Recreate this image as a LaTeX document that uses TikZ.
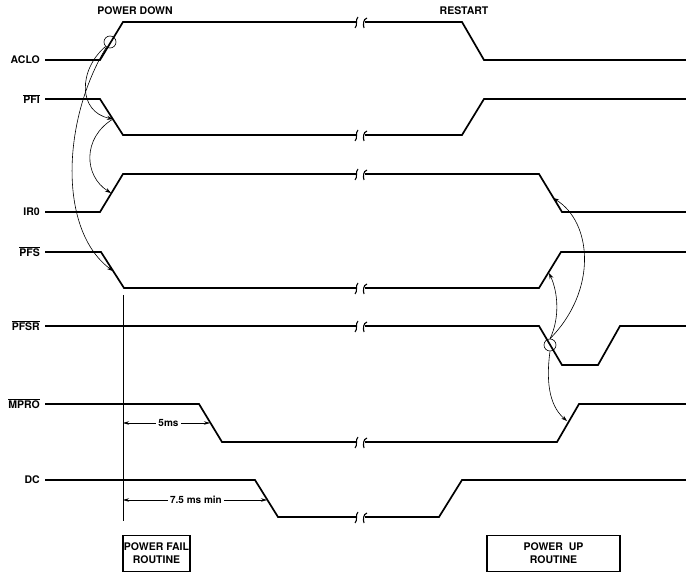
\documentclass[tikz,border=0pt]{standalone}
\usepackage{fontspec}
\setmainfont{TeX Gyre Heros}
\usetikzlibrary{arrows.meta}
\tikzset{
  sig/.style={line width=1.7pt, line join=miter},
  conn/.style={line width=0.6pt, -{Stealth[length=6pt,width=4pt]}},
  brkmark/.style={line width=1.1pt},
  lbl/.style={anchor=east, font=\fontsize{10.5}{12}\selectfont\bfseries, inner sep=1pt},
  ttl/.style={font=\fontsize{10.5}{12}\selectfont\bfseries, inner sep=1pt},
  dimtxt/.style={font=\fontsize{10}{11}\selectfont\bfseries, fill=white, inner sep=2pt},
  dimarr/.style={line width=0.6pt, {Stealth[length=6pt,width=3.5pt]}-{Stealth[length=6pt,width=3.5pt]}},
  routine/.style={draw, line width=1.4pt, align=center, font=\fontsize{10.5}{13}\selectfont\bfseries, inner sep=0pt},
  ring/.style={draw, circle, line width=0.6pt, minimum size=12pt, inner sep=0pt}
}
\begin{document}
\begin{tikzpicture}[x=1pt,y=-1pt]
\useasboundingbox (0,0) rectangle (686,572);
% titles
\node[ttl] (tdown) at (135,11) {POWER DOWN};
\node[ttl] (trest) at (464,11) {RESTART};
% labels
\node[lbl] (lACLO) at (41,60) {ACLO};
\node[lbl] (lPFI) at (41,99) {$\overline{\mbox{\bfseries PFI}}$};
\node[lbl] (lIRO) at (41,212) {IR0};
\node[lbl] (lPFS) at (41,252) {$\overline{\mbox{\bfseries PFS}}$};
\node[lbl] (lPFSR) at (41,326) {$\overline{\mbox{\bfseries PFSR}}$};
\node[lbl] (lMPRO) at (41,404) {$\overline{\mbox{\bfseries MPRO}}$};
\node[lbl] (lDC) at (41,480) {DC};
% signals
\draw[sig] (45,60)--(100,60)--(123,22)--(356,22) (365,22)--(462,22)--(484,60)--(686,60);
\draw[sig] (45,99)--(100,99)--(123,135)--(356,135) (365,135)--(462,135)--(484,99)--(686,99);
\draw[sig] (45,212)--(100,212)--(123,174)--(356,174) (365,174)--(539,174)--(562,212)--(686,212);
\draw[sig] (45,252)--(101,252)--(124,288)--(356,288) (365,288)--(539,288)--(561,252)--(686,252);
\draw[sig] (45,326)--(356,326) (365,326)--(539,326)--(562,365)--(598,365)--(620,326)--(686,326);
\draw[sig] (45,404)--(199,404)--(222,442)--(356,442) (365,442)--(557,442)--(579,404)--(686,404);
\draw[sig] (45,480)--(255,480)--(278,517)--(356,517) (365,517)--(439,517)--(462,480)--(686,480);
% break marks
\foreach \yy in {22,135,174,288,326,442,517}{
  \draw[brkmark] (358,{\yy-5}) .. controls (355,{\yy-2}) and (358,{\yy+3}) .. (355,{\yy+6});
  \draw[brkmark] (367,{\yy-4}) .. controls (363,{\yy-3}) and (363,{\yy+3}) .. (364,{\yy+6});
}
% reference vertical line
\coordinate (vtop) at (123,295);
\coordinate (vbot) at (123,521);
\draw[line width=0.7pt] (vtop) -- (vbot);
% circles
\node[ring] (cA) at (110,42) {};
\node[ring] (cB) at (550,345) {};
% arrow targets
\coordinate (pPFI) at (113,119);
\coordinate (pIRO) at (111,193);
\coordinate (pPFS) at (113,271);
\coordinate (pIROf) at (553,198);
\coordinate (pPFSr) at (549,273);
\coordinate (pMPRO) at (567,421);
% connectors
\draw[conn] (cA.225) .. controls (78,70) and (78,112) .. (pPFI);
\draw[conn] (cA.235) .. controls (62,120) and (58,230) .. (pPFS);
\draw[conn] (pPFI) .. controls (82,138) and (84,176) .. (pIRO);
\draw[conn] (cB.north) .. controls (598,290) and (592,222) .. (pIROf);
\draw[conn] (cB.north) .. controls (560,318) and (558,292) .. (pPFSr);
\draw[conn] (cB.south) .. controls (545,388) and (552,408) .. (pMPRO);
% dimensions
\coordinate (d1a) at (123,423);
\coordinate (d1b) at (210,423);
\draw[dimarr] (d1a) -- (d1b) node[dimtxt, midway, xshift=2pt] (t5) {5ms};
\coordinate (d2a) at (123,500);
\coordinate (d2b) at (267,500);
\draw[dimarr] (d2a) -- (d2b) node[dimtxt, pos=0.5, xshift=1pt] (t75) {7.5 ms min};
% routine boxes
\node[routine, minimum width=67pt, minimum height=36pt] (bfail) at (156.5,553.5) {POWER FAIL\\ROUTINE};
\node[routine, minimum width=133pt, minimum height=36pt] (bup) at (553.5,553.5) {POWER\ \ UP\\ROUTINE};
\end{tikzpicture}
\end{document}
